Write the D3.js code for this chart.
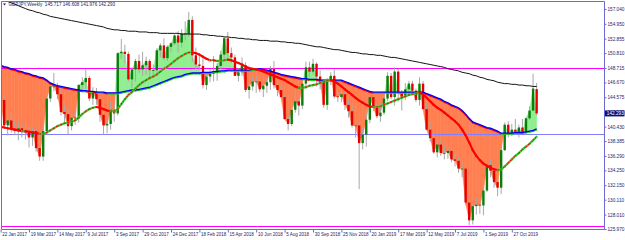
<!DOCTYPE html>
<html><head><meta charset="utf-8">
<script src="https://cdn.jsdelivr.net/npm/d3@7"></script>
<style>body{margin:0;background:#fff}svg{display:block}</style>
</head><body><svg id="c" width="625" height="240"></svg>
<script>
const headerText = "GBPJPY,Weekly  145.717 146.608 141.976 142.293";
const tickLabels = ["22 Jan 2017","19 Mar 2017","14 May 2017","9 Jul 2017","3 Sep 2017","29 Oct 2017","24 Dec 2017","18 Feb 2018","15 Apr 2018","10 Jun 2018","5 Aug 2018","30 Sep 2018","25 Nov 2018","20 Jan 2019","17 Mar 2019","12 May 2019","7 Jul 2019","1 Sep 2019","27 Oct 2019"];
const tickIndex = [0,8,16,24,32,40,48,56,64,72,80,88,96,104,112,120,128,136,144];
const priceTicks = [157.040,154.950,152.855,150.810,148.715,146.670,144.575,142.525,140.430,138.385,136.290,134.250,132.150,130.110,128.010,125.970];
const lastPrice = 142.293;
const levelsMagenta = [148.71, 126.39];
const levelsBlue = [139.38];

const open = [141.5,144.2,140.6,141.3,140.1,139.8,140.2,139.7,139.6,138.9,
139.8,137.4,136.2,139.8,144.4,146.1,146.1,145.0,142.5,142.2,
140.5,141.7,141.6,146.3,146.7,147.3,144.4,145.4,144.3,142.1,
140.6,140.8,142.8,142.3,150.8,151.0,150.7,147.1,148.5,149.7,
148.5,149.1,149.7,148.4,148.4,151.2,151.9,150.1,151.7,152.2,
153.3,152.3,153.6,153.5,155.5,150.5,149.2,149.0,146.3,147.5,
147.9,148.0,149.0,150.6,152.9,150.8,150.2,147.6,148.1,149.1,
145.6,146.1,146.8,146.8,145.7,146.2,146.7,148.6,146.3,145.6,
144.6,141.5,140.8,142.8,144.0,143.4,146.5,148.8,148.2,149.3,
147.5,146.8,143.5,146.8,147.6,144.7,144.6,145.0,143.5,142.6,
140.6,140.6,138.1,139.3,141.4,144.6,143.1,141.9,142.4,144.4,
147.6,144.6,148.2,145.3,144.6,145.7,146.5,145.5,144.2,146.5,
142.9,140.0,138.8,136.8,137.9,136.7,136.7,137.0,135.8,135.6,
134.5,134.5,129.7,127.2,129.2,129.4,129.3,131.4,135.0,134.2,
132.6,131.8,137.1,140.7,139.4,140.0,139.7,140.3,139.5,141.6,
142.7,145.717];
const high = [144.6,144.7,141.8,142.5,141.3,141.1,140.9,141.0,140.4,140.3,
140.0,138.3,140.6,144.6,146.6,148.0,146.6,145.9,143.4,142.9,
142.2,142.5,146.4,147.4,148.5,147.6,146.0,145.9,144.6,142.6,
141.3,143.9,143.6,150.9,152.8,152.0,151.0,148.8,150.0,150.6,
151.0,150.3,150.0,149.2,151.5,152.2,152.9,151.9,152.3,153.5,
153.9,154.2,155.3,156.6,156.0,151.6,150.6,150.2,148.0,148.5,
150.4,149.4,151.1,153.1,153.8,151.6,150.6,148.7,150.2,149.5,
146.6,147.5,147.6,147.1,146.6,147.0,149.0,149.7,147.0,146.4,
144.8,142.0,143.8,145.6,144.4,146.6,149.6,149.6,150.0,149.5,
148.4,147.1,147.3,148.1,148.5,145.3,145.6,145.4,144.2,143.5,
141.0,141.0,140.2,142.4,144.7,144.7,143.6,143.7,145.0,148.1,
148.0,148.8,148.6,145.6,146.6,146.9,146.9,145.8,147.4,146.9,
143.8,141.0,139.4,138.5,138.6,137.8,137.5,137.3,136.6,136.0,
135.3,134.9,130.0,129.4,130.4,130.0,132.0,135.1,135.7,134.8,
133.5,137.4,141.0,141.2,140.8,141.5,140.7,141.5,141.7,143.3,
147.9,146.608];
const low = [141.0,140.3,139.2,139.6,139.2,138.5,138.9,138.6,137.5,137.7,
136.9,135.6,135.6,139.5,143.9,145.4,144.3,142.0,141.0,139.3,
139.9,140.7,141.0,145.6,145.8,144.0,143.5,143.5,141.1,139.3,
139.5,140.0,141.1,142.0,150.0,149.4,146.8,145.9,146.8,148.0,
147.6,147.7,147.0,147.4,147.5,150.2,149.8,149.7,150.9,151.9,
150.9,151.6,152.6,153.1,149.6,148.6,148.5,145.8,145.6,146.7,
146.8,146.9,148.5,150.0,150.2,149.4,147.6,146.8,147.6,145.3,
144.4,145.5,145.2,145.3,144.6,145.2,145.6,145.8,144.7,144.5,
141.4,139.9,140.5,142.4,142.0,142.9,145.8,147.4,147.8,146.1,
145.7,143.1,142.8,146.3,144.4,143.9,143.9,142.8,141.7,140.3,
138.9,131.6,137.2,137.6,140.9,142.6,141.6,141.1,142.1,144.0,
144.3,143.4,144.0,142.7,144.2,144.9,145.2,143.9,143.4,142.8,
139.9,138.3,136.6,136.1,136.3,135.8,135.9,135.4,134.8,133.9,
133.3,129.3,126.5,126.6,128.0,128.1,127.9,131.2,133.3,131.8,
130.6,130.9,137.0,138.9,139.1,139.3,138.9,139.6,139.3,141.4,
142.6,141.976];
const close = [144.2,140.6,141.3,140.1,139.8,140.2,139.7,139.6,138.9,139.8,
137.4,136.2,139.8,144.4,146.1,146.1,145.0,142.5,142.2,140.5,
141.7,141.6,146.3,146.7,147.3,144.4,145.4,144.3,142.1,140.6,
140.8,142.8,142.3,150.8,151.0,150.7,147.1,148.5,149.7,148.5,
149.1,149.7,148.4,148.4,151.2,151.9,150.1,151.7,152.2,153.3,
152.3,153.6,153.5,155.5,150.5,149.2,149.0,146.3,147.5,147.9,
148.0,149.0,150.6,152.9,150.8,150.2,147.6,148.1,149.1,145.6,
146.1,146.8,146.8,145.7,146.2,146.7,148.6,146.3,145.6,144.6,
141.5,140.8,142.8,144.0,143.4,146.5,148.8,148.2,149.3,147.5,
146.8,143.5,146.8,147.6,144.7,144.6,145.0,143.5,142.6,140.6,
140.6,138.1,139.3,141.4,144.6,143.1,141.9,142.4,144.4,147.6,
144.6,148.2,145.3,144.6,145.7,146.5,145.5,144.2,146.5,142.9,
140.0,138.8,136.8,137.9,136.7,136.7,137.0,135.8,135.6,134.5,
134.5,129.7,127.2,129.2,129.4,129.3,131.4,135.0,134.2,132.6,
131.8,137.1,140.7,139.4,140.0,139.7,140.3,139.5,141.6,142.7,
145.8,142.293];
const slowMA = [149.1,148.9,148.8,148.6,148.5,148.3,148.2,148.0,147.9,147.7,147.6,147.4,147.3,
147.0,146.6,146.4,146.2,146.1,146.0,145.9,145.8,145.7,145.6,
145.5,145.5,145.4,145.4,145.3,145.3,145.3,145.2,145.2,145.2,145.2,
145.3,145.4,145.5,145.6,145.6,145.7,145.8,145.9,146.0,146.2,146.4,146.6,
146.8,147.0,147.2,147.4,147.5,147.6,147.8,147.9,
148.0,148.0,148.0,148.1,148.1,148.1,148.2,148.2,148.3,148.3,148.4,148.4,
148.4,148.4,148.4,148.4,148.4,148.5,148.5,148.6,
148.5,148.4,148.3,148.1,148.0,147.8,147.7,
147.6,147.5,147.4,147.3,147.2,
147.2,147.1,147.1,147.1,147.0,147.0,147.0,147.0,147.0,147.0,147.0,
146.8,146.6,146.4,146.2,146.0,145.8,145.6,145.4,145.3,
145.3,145.3,145.3,145.3,145.3,145.3,145.3,145.3,145.3,145.3,145.3,145.3,145.3,145.3,
145.1,144.9,144.7,144.5,144.3,144.0,143.8,143.5,
143.3,143.1,142.7,142.2,141.6,141.1,
140.9,140.7,140.5,140.3,140.2,140.0,139.8,139.5,
139.5,139.5,139.5,139.6,139.6,139.6,139.7,139.8,139.9,140.1];
const midMA = [140.4,140.3,140.2,140.1,140.0,139.9,139.8,139.8,139.7,139.6,139.5,139.4,139.4,
139.6,139.9,140.2,140.5,140.7,140.9,141.0,141.1,141.3,141.7,
142.2,142.6,142.9,143.1,143.2,143.1,142.9,142.7,142.6,142.6,
142.9,143.6,144.3,144.9,145.3,145.8,146.3,146.7,147.0,147.3,147.5,147.8,148.2,148.6,148.9,149.3,149.7,150.1,150.4,150.7,150.9,
150.9,150.8,150.6,150.3,150.0,149.8,149.8,
149.7,149.7,149.8,149.9,149.8,149.6,149.4,
149.2,148.9,148.7,148.6,148.5,148.4,
148.2,148.0,147.8,147.6,147.4,147.2,147.0,
146.7,146.4,146.1,145.9,
145.9,146.0,146.2,146.3,146.4,
146.6,146.8,146.9,147.0,
146.8,146.5,146.1,145.7,145.3,
144.9,144.5,144.1,143.8,
143.5,143.3,143.2,143.2,
143.3,143.5,143.7,143.9,
144.1,144.3,144.5,144.7,144.9,
145.0,145.1,145.2,
145.0,144.5,144.0,143.5,143.1,142.8,
142.4,142.0,141.6,141.2,140.7,
140.0,139.2,138.2,137.1,
136.3,135.7,135.2,134.9,
134.6,134.4,134.3,134.4,
134.8,135.3,135.8,136.3,136.7,
137.2,137.6,138.0,138.5,139.0];
const longMA = [158.5,158.3,158.1,157.9,157.7,157.5,157.3,157.1,156.9,156.8,156.6,156.5,
156.3,156.2,156.0,155.9,155.8,155.7,155.6,155.5,
155.4,155.3,155.2,155.1,155.0,154.9,154.8,154.7,154.6,
154.5,154.3,154.2,154.1,154.1,154.0,154.0,153.9,153.9,
153.9,153.8,153.8,153.8,153.7,153.7,153.7,153.6,153.6,153.6,
153.6,153.6,153.6,153.5,153.5,153.5,153.5,153.5,153.5,
153.4,153.4,153.3,153.3,153.2,153.2,153.1,153.1,153.0,153.0,152.9,152.9,152.8,152.8,152.7,152.7,152.6,
152.6,152.6,152.5,152.5,152.5,152.4,152.4,152.3,152.3,152.2,152.2,152.1,
152.0,151.9,151.8,151.7,151.7,151.6,151.5,151.4,151.3,151.3,151.2,151.1,151.0,
150.9,150.9,150.8,150.7,150.7,150.6,150.6,150.5,150.5,150.4,
150.3,150.2,150.2,150.1,150.0,149.9,149.8,
149.7,149.6,149.5,149.4,149.3,149.2,149.1,149.0,148.9,
148.8,148.6,148.5,148.4,148.3,148.1,148.0,147.9,147.7,
147.6,147.4,147.3,147.1,147.0,146.9,146.7,146.6,
146.5,146.5,146.4,146.4,146.3,146.3,146.2,146.2,146.1,146.1];

const FONT = "'Liberation Sans', Arial, sans-serif";
const TXT = "#1c1c6a";
const FRAME = "#6b6bd0";
const svg = d3.select('#c');
const P = {left:1.5, right:604.5, top:1.5, bottom:229.5};
const n = close.length;
const x = d3.scaleLinear().domain([0, n-1]).range([0.6, 536.65]);
const y = d3.scaleLinear().domain([125.97, 157.04]).range([229, 9]);

svg.append('rect').attr('width',625).attr('height',240).attr('fill','#fff');
svg.append('defs').append('clipPath').attr('id','clip').append('rect')
  .attr('x',P.left).attr('y',P.top).attr('width',P.right-P.left).attr('height',P.bottom-P.top);
const g = svg.append('g').attr('clip-path','url(#clip)');

// fill between slow MA and close
const ORANGE = '#ff7f50', GREEN = '#90ee90';
const polys = [];
for (let i=0;i<n-1;i++){
  const d0 = close[i]-slowMA[i], d1 = close[i+1]-slowMA[i+1];
  if (d0*d1 >= 0){
    polys.push({c:(d0+d1)>=0?GREEN:ORANGE, pts:[[i,slowMA[i]],[i+1,slowMA[i+1]],[i+1,close[i+1]],[i,close[i]]]});
  } else {
    const t = d0/(d0-d1);
    const xc = i+t, pc = slowMA[i]+t*(slowMA[i+1]-slowMA[i]);
    polys.push({c:d0>0?GREEN:ORANGE, pts:[[i,slowMA[i]],[xc,pc],[i,close[i]]]});
    polys.push({c:d1>0?GREEN:ORANGE, pts:[[xc,pc],[i+1,slowMA[i+1]],[i+1,close[i+1]]]});
  }
}
const polyLine = d3.line().x(d=>x(d[0])).y(d=>y(d[1]));
g.append('g').selectAll('path').data(polys).join('path')
  .attr('d',d=>polyLine(d.pts)+'Z').attr('fill',d=>d.c).attr('stroke',d=>d.c).attr('stroke-width',0.6);

// horizontal levels
g.selectAll('.lm').data(levelsMagenta).join('line').attr('class','lm')
  .attr('x1',P.left).attr('x2',P.right).attr('y1',d=>Math.round(y(d))+0.5).attr('y2',d=>Math.round(y(d))+0.5)
  .attr('stroke','#ff00ff').attr('stroke-width',1);
g.selectAll('.lb').data(levelsBlue).join('line').attr('class','lb')
  .attr('x1',P.left).attr('x2',P.right).attr('y1',d=>Math.round(y(d))+0.5).attr('y2',d=>Math.round(y(d))+0.5)
  .attr('stroke','#8080ff').attr('stroke-width',1);

// candles
const cg = g.append('g');
cg.selectAll('.wick').data(d3.range(n)).join('line').attr('class','wick')
  .attr('x1',i=>x(i)).attr('x2',i=>x(i)).attr('y1',i=>y(high[i])).attr('y2',i=>y(low[i]))
  .attr('stroke','#a8a8a8').attr('stroke-width',1);
cg.selectAll('.body').data(d3.range(n)).join('rect').attr('class','body')
  .attr('x',i=>x(i)-1.2).attr('width',2.4)
  .attr('y',i=>y(Math.max(open[i],close[i])))
  .attr('height',i=>Math.max(0.8, Math.abs(y(open[i])-y(close[i]))))
  .attr('fill',i=>close[i]>=open[i]?'#0a7d0a':'#e80000');

// long MA (black)
const line = d3.line().x((d,i)=>x(i)).y(d=>y(d));
g.append('path').attr('d',line(longMA)).attr('fill','none').attr('stroke','#111').attr('stroke-width',1);

function segs(arr){
  const s=[]; for(let i=0;i<arr.length-1;i++) s.push({i, up:arr[i+1]>=arr[i], a:arr[i], b:arr[i+1]}); return s;
}
// slow MA: slope colour fringe under a blue line
g.append('g').selectAll('line').data(segs(slowMA)).join('line')
  .attr('x1',d=>x(d.i)).attr('x2',d=>x(d.i+1)).attr('y1',d=>y(d.a)+1).attr('y2',d=>y(d.b)+1)
  .attr('stroke',d=>d.up?'#22cc22':'#ff0000').attr('stroke-width',1.2).attr('stroke-linecap','round');
g.append('path').attr('d',line(slowMA)).attr('fill','none').attr('stroke','#0000ff').attr('stroke-width',1.3);

// mid MA: red when falling, green with red dashes when rising
const ms = segs(midMA);
g.append('g').selectAll('line').data(ms).join('line')
  .attr('x1',d=>x(d.i)).attr('x2',d=>x(d.i+1)).attr('y1',d=>y(d.a)).attr('y2',d=>y(d.b))
  .attr('stroke',d=>d.up?'#33cc33':'#ff0000').attr('stroke-width',2.2).attr('stroke-linecap','round');
g.append('g').selectAll('line').data(ms.filter(d=>d.up)).join('line')
  .attr('x1',d=>x(d.i)).attr('x2',d=>x(d.i+1)).attr('y1',d=>y(d.a)).attr('y2',d=>y(d.b))
  .attr('stroke','#ff0000').attr('stroke-width',1.1).attr('stroke-dasharray','1.2,1.6');

// frame
svg.append('path').attr('d',`M${P.left},${P.bottom}V${P.top}H${P.right}V${P.bottom}H${P.left}`)
  .attr('fill','none').attr('stroke',FRAME).attr('stroke-width',1);

// y axis
const ya = svg.append('g').attr('transform',`translate(${P.right},0)`)
  .call(d3.axisRight(y).tickValues(priceTicks).tickSize(2).tickPadding(1).tickFormat(d3.format('.3f')));
ya.select('.domain').remove();
ya.selectAll('line').attr('stroke',FRAME);
ya.selectAll('text').attr('font-family',FONT).attr('font-size',4.7).attr('fill',TXT);

// x axis
const xa = svg.append('g').attr('transform',`translate(0,${P.bottom})`)
  .call(d3.axisBottom(x).tickValues(tickIndex).tickSize(3).tickFormat((d,k)=>tickLabels[k]));
xa.select('.domain').remove();
xa.selectAll('line').attr('stroke',FRAME);
xa.selectAll('text').attr('text-anchor','start').attr('x',1.2).attr('y',3.2)
  .attr('font-family',FONT).attr('font-size',4.5).attr('fill',TXT);

// current price label
const yl = y(lastPrice);
svg.append('rect').attr('x',P.right+0.5).attr('y',yl-3).attr('width',19.5).attr('height',6).attr('fill','#10107a');
svg.append('text').attr('x',P.right+2.3).attr('y',yl).attr('dy','0.35em').text(lastPrice.toFixed(3))
  .attr('font-family',FONT).attr('font-size',4.7).attr('fill','#fff');

// header
svg.append('path').attr('d','M3,3.5L6,3.5L4.5,5.5Z').attr('fill',TXT);
svg.append('text').attr('x',8.5).attr('y',6.2).text(headerText)
  .attr('font-family',FONT).attr('font-size',4.6).attr('fill',TXT).attr('xml:space','preserve');
</script></body></html>
